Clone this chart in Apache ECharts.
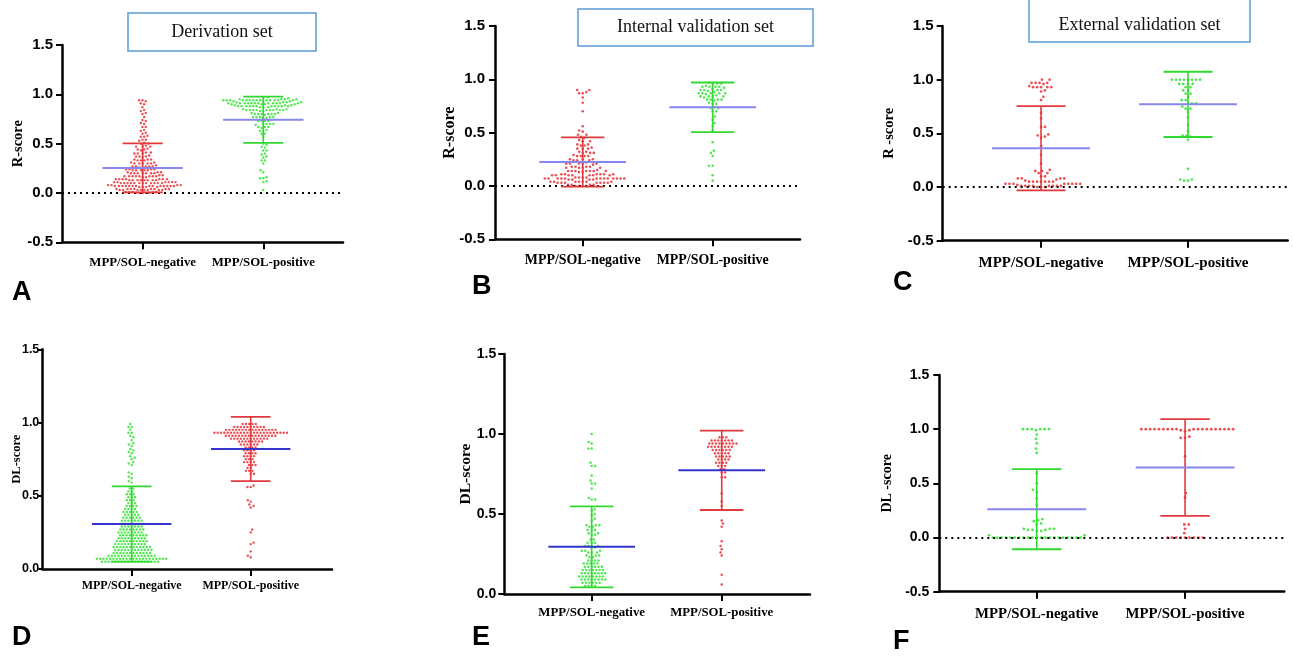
<!DOCTYPE html>
<html>
<head>
<meta charset="utf-8">
<script src="https://cdn.jsdelivr.net/npm/echarts@6/dist/echarts.min.js"></script>
<style>
  html, body { margin: 0; padding: 0; background: #ffffff; }
  #chart { width: 1293px; height: 656px; }
</style>
</head>
<body>
<div id="chart"></div>
<script>
// ---- Data ---------------------------------------------------------------
const categories = ['MPP/SOL-negative', 'MPP/SOL-positive'];
const panelLetters = ['A', 'B', 'C', 'D', 'E', 'F'];
const setTitles = ['Derivation set', 'Internal validation set', 'External validation set'];

// R-score, derivation set
const rNegDerivation = [
  0.00,0.01,0.00,0.01,0.00,0.01,0.01,0.00,0.01,0.00,
  0.03,0.04,0.03,0.04,0.03,0.04,0.04,0.03,0.04,0.03,0.04,0.03,0.04,0.03,0.04,0.03,
  0.07,0.07,0.06,0.07,0.08,0.07,0.07,0.06,0.07,0.08,0.07,0.07,0.06,0.07,0.08,0.07,0.07,0.06,0.07,0.08,0.07,0.07,
  0.10,0.10,0.11,0.10,0.10,0.11,0.10,0.10,0.11,0.10,0.10,0.11,0.10,0.10,0.11,0.10,0.10,0.11,
  0.13,0.14,0.13,0.14,0.13,0.14,0.13,0.14,0.13,0.14,0.13,0.14,0.13,0.14,0.13,
  0.17,0.17,0.16,0.17,0.18,0.17,0.17,0.16,0.17,0.18,0.17,0.17,
  0.20,0.20,0.21,0.20,0.20,0.21,0.20,0.20,0.21,0.20,
  0.23,0.24,0.23,0.24,0.23,0.24,0.23,0.24,0.23,
  0.27,0.27,0.26,0.27,0.28,0.27,0.27,0.26,
  0.30,0.30,0.31,0.30,0.30,0.31,0.30,
  0.33,0.34,0.33,0.34,0.33,0.34,
  0.37,0.37,0.36,0.37,0.38,
  0.40,0.40,0.41,0.40,0.41,
  0.44,0.43,0.44,0.45,
  0.47,0.47,0.48,0.47,
  0.50,0.51,0.50,
  0.54,0.53,0.54,
  0.57,0.57,0.58,
  0.60,0.61,0.64,0.63,0.67,0.67,0.70,0.71,0.74,0.73,0.77,0.80,0.81,0.84,0.83,0.87,0.90,0.91,0.94,0.94,0.93
];
const rPosDerivation = [
  0.97,0.97,0.96,
  0.94,0.94,0.95,0.94,0.94,0.93,0.94,0.94,0.95,0.94,0.94,0.93,0.94,0.94,0.95,0.94,0.94,0.93,0.94,0.94,0.95,
  0.91,0.91,0.90,0.91,0.92,0.91,0.91,0.90,0.91,0.92,0.91,0.91,0.90,0.91,0.92,0.91,0.91,0.90,0.91,0.92,
  0.88,0.88,0.87,0.88,0.89,0.88,0.88,0.87,0.88,0.89,0.88,0.88,0.87,0.88,0.89,0.88,0.88,
  0.84,0.84,0.85,0.84,0.83,0.84,0.84,0.85,0.84,0.83,0.84,0.84,0.85,0.84,
  0.80,0.80,0.81,0.80,0.79,0.80,0.80,0.81,0.80,
  0.77,0.76,0.77,0.77,0.76,0.77,0.77,
  0.73,0.73,0.74,0.73,0.73,
  0.70,0.70,0.69,0.70,0.70,
  0.67,0.66,0.67,0.67,
  0.63,0.63,0.64,
  0.60,0.60,0.57,
  0.50,0.49,0.47,0.46,0.43,0.43,0.40,0.39,0.37,0.36,0.33,0.33,0.30,
  0.23,0.21,0.16,0.15,0.15,0.12,0.11,0.03
];
const derivationRMean = [0.254, 0.742];
const derivationRSd = [0.248, 0.234];

// R-score, internal validation set
const rNegInternal = [
  0.90,0.90,0.88,0.87,0.87,0.83,0.78,0.70,
  0.56,0.52,0.51,0.48,0.48,0.45,0.46,
  0.42,0.42,0.43,0.38,0.39,0.38,0.39,0.35,0.35,0.36,0.35,
  0.31,0.32,0.31,0.32,0.31,0.28,0.28,0.29,0.28,0.28,
  0.24,0.25,0.24,0.25,0.24,0.25,
  0.21,0.21,0.22,0.21,0.21,0.20,0.21,
  0.17,0.18,0.17,0.18,0.17,0.18,0.17,0.18,
  0.14,0.14,0.13,0.14,0.14,0.15,0.14,0.14,0.13,0.14,
  0.10,0.11,0.10,0.11,0.10,0.11,0.10,0.11,0.10,0.11,0.10,0.11,0.10,
  0.07,0.07,0.06,0.07,0.08,0.07,0.07,0.06,0.07,0.08,0.07,0.07,0.06,0.07,0.08,0.07,0.07,0.07,0.06,0.07,0.08,
  0.03,0.04,0.03,0.04,0.03,0.04,0.03,0.04,0.03,0.04,0.03,0.04,0.03,0.04,
  0.00,0.01,0.00,0.01,0.00,0.01,0.00,0.01
];
const rPosInternal = [
  0.96,0.96,0.97,0.96,
  0.93,0.93,0.94,0.93,0.93,0.92,
  0.90,0.90,0.89,0.90,0.90,0.91,
  0.87,0.87,0.86,0.87,0.88,0.87,0.87,
  0.84,0.84,0.83,0.84,0.84,0.85,
  0.81,0.81,0.80,0.81,0.81,
  0.77,0.77,0.78,
  0.73,0.73,0.74,
  0.70,0.70,
  0.65,0.62,0.59,0.56,0.52,
  0.41,0.33,0.31,0.28,0.19,0.19,0.10,0.05
];
const internalRMean = [0.225, 0.737];
const internalRSd = [0.231, 0.233];

// R-score, external validation set
const rNegExternal = [
  1.00,1.00,0.97,0.97,0.96,0.97,0.97,0.93,0.93,0.94,0.93,0.93,0.93,0.90,0.89,0.84,0.81,
  0.69,0.64,0.56,0.56,0.49,0.48,0.47,0.46,0.38,0.30,0.22,
  0.16,0.15,0.15,0.13,0.13,0.10,0.10,
  0.08,0.08,0.08,0.07,0.08,
  0.05,0.05,0.05,0.06,0.05,0.05,0.05,0.05,
  0.03,0.03,0.03,0.02,0.03,0.03,0.03,0.03,0.03,
  0.01,0.01,0.00,0.01,0.01,0.00,0.01,0.01,0.00,0.01,0.01
];
const rPosExternal = [
  1.00,1.00,1.00,1.00,1.00,1.00,1.00,1.00,
  0.96,0.96,0.96,0.96,
  0.93,0.93,0.90,0.90,0.87,0.87,0.84,0.81,0.81,
  0.78,0.78,0.78,0.75,0.73,0.73,0.70,0.65,0.58,0.52,
  0.48,0.48,0.47,0.44,0.17,0.07,0.07,0.06,0.06
];
const externalRMean = [0.361, 0.770];
const externalRSd = [0.392, 0.304];

// DL-score, derivation set
const dlNegDerivation = [
  0.99,0.97,0.97,0.95,0.93,0.93,0.91,0.90,
  0.88,0.86,0.85,0.84,0.82,0.81,0.80,0.79,
  0.77,0.76,0.75,0.73,0.72,0.71,
  0.66,0.65,0.63,0.62,0.60,0.59,
  0.55,0.55,0.53,0.53,0.51,0.51,0.51,0.49,0.49,0.49,0.47,0.47,0.47,
  0.45,0.45,0.45,0.43,0.43,0.43,0.43,0.41,0.41,0.41,0.41,
  0.39,0.39,0.39,0.39,0.39,0.37,0.37,0.37,0.37,0.37,
  0.35,0.35,0.35,0.35,0.35,0.35,0.33,0.33,0.33,0.33,0.33,0.33,0.33,
  0.31,0.31,0.31,0.31,0.31,0.31,0.31,
  0.29,0.29,0.29,0.29,0.29,0.29,0.29,
  0.27,0.27,0.27,0.27,0.27,0.27,0.27,0.27,
  0.25,0.25,0.25,0.25,0.25,0.25,0.25,0.25,
  0.23,0.23,0.23,0.23,0.23,0.23,0.23,0.23,0.23,
  0.21,0.21,0.21,0.21,0.21,0.21,0.21,0.21,0.21,
  0.19,0.19,0.19,0.19,0.19,0.19,0.19,0.19,0.19,0.19,
  0.17,0.17,0.17,0.17,0.17,0.17,0.17,0.17,0.17,0.17,
  0.15,0.15,0.15,0.15,0.15,0.15,0.15,0.15,0.15,0.15,0.15,0.15,
  0.13,0.13,0.13,0.13,0.13,0.13,0.13,0.13,0.13,0.13,0.13,0.13,
  0.11,0.11,0.11,0.11,0.11,0.11,0.11,0.11,0.11,0.11,0.11,0.11,
  0.09,0.09,0.09,0.09,0.09,0.09,0.09,0.09,0.09,0.09,0.09,0.09,0.09,0.09,0.09,
  0.07,0.07,0.07,0.07,0.07,0.07,0.07,0.07,0.07,0.07,0.07,0.07,0.07,0.07,0.07,0.07,0.07,0.07,0.07,0.07,0.07,0.07,
  0.05,0.05,0.05,0.05,0.05,0.05,0.05,0.05,0.05,0.05,0.05,0.05,0.05,0.05,0.05,0.05,0.05,0.05
];
const dlPosDerivation = [
  0.99,0.99,0.99,0.99,0.99,
  0.97,0.97,0.97,0.97,0.97,0.97,0.97,0.97,0.97,0.97,
  0.95,0.95,0.95,0.95,0.95,0.95,0.95,0.95,0.95,0.95,0.95,0.95,0.95,0.95,0.95,0.95,
  0.93,0.93,0.93,0.93,0.93,0.93,0.93,0.93,0.93,0.93,0.93,0.93,0.93,0.93,0.93,0.93,0.93,0.93,0.93,0.93,0.93,0.93,0.93,
  0.91,0.91,0.91,0.91,0.91,0.91,0.91,0.91,0.91,0.91,0.91,0.91,0.91,0.91,0.91,0.91,
  0.89,0.89,0.89,0.89,0.89,0.89,0.89,0.89,0.89,0.89,0.89,0.89,
  0.87,0.87,0.87,0.87,0.87,0.87,0.87,0.87,
  0.85,0.85,0.85,0.85,0.85,0.85,
  0.83,0.83,0.83,0.83,0.81,0.81,0.81,0.81,0.79,0.79,0.79,0.79,0.77,0.77,0.77,0.77,
  0.75,0.75,0.75,0.73,0.73,0.73,0.73,0.71,0.71,0.71,0.69,0.69,0.67,0.67,0.67,0.65,0.65,
  0.57,0.56,0.56,0.47,0.46,0.44,0.43,0.42,
  0.27,0.25,0.18,0.17,0.12,0.09,0.08
];
const derivationDLMean = [0.307, 0.819];
const derivationDLSd = [0.257, 0.219];

// DL-score, internal validation set
const dlNegInternal = [
  1.00,0.95,0.94,0.91,0.91,0.82,0.80,0.80,0.74,0.71,0.69,0.69,0.66,0.60,0.59,0.59,
  0.53,0.52,0.50,0.49,0.47,0.46,
  0.43,0.43,0.43,0.42,0.42,0.40,0.40,0.40,0.38,0.38,0.37,0.37,
  0.34,0.34,0.32,0.32,0.32,0.30,0.30,0.30,0.29,0.29,0.27,0.27,0.27,0.26,0.26,0.26,0.24,0.24,0.24,0.23,0.23,
  0.21,0.21,0.21,0.21,
  0.19,0.19,0.19,0.19,0.19,
  0.17,0.17,0.17,0.17,0.17,0.17,
  0.15,0.15,0.15,0.15,0.15,0.15,0.15,
  0.13,0.13,0.13,0.13,0.13,0.13,0.13,0.13,
  0.11,0.11,0.11,0.11,0.11,0.11,0.11,0.11,
  0.09,0.09,0.09,0.09,0.09,0.09,0.09,0.09,
  0.07,0.07,0.07,0.07,0.07,0.07,
  0.05,0.05,0.05,0.05
];
const dlPosInternal = [
  0.98,0.98,0.98,
  0.96,0.96,0.96,0.96,0.96,0.96,0.96,
  0.94,0.94,0.94,0.94,0.94,0.94,0.94,0.94,0.94,
  0.92,0.92,0.92,0.92,0.92,0.92,0.92,0.92,
  0.90,0.90,0.90,0.90,0.90,0.90,
  0.88,0.88,0.88,0.88,0.88,
  0.86,0.86,0.86,0.86,0.86,
  0.84,0.84,0.84,0.84,
  0.82,0.82,0.82,0.82,
  0.80,0.80,0.80,
  0.78,0.78,0.76,0.76,0.73,0.73,
  0.63,0.58,0.55,0.46,0.44,0.42,0.33,0.30,0.28,0.26,0.24,0.12,0.06
];
const internalDLMean = [0.295, 0.773];
const internalDLSd = [0.253, 0.248];

// DL-score, external validation set
const dlNegExternal = [
  1.00,1.00,1.00,1.00,1.00,1.00,0.99,
  0.95,0.91,0.87,0.82,0.78,
  0.59,0.50,0.44,0.42,0.36,0.30,
  0.17,0.16,0.15,0.13,0.12,
  0.08,0.08,0.08,0.07,0.07,0.07,0.06,0.06,
  0.02,0.02,
  0.00,0.00,0.00,0.00,0.00,0.00,0.00,0.00,0.00,0.00,0.00,0.00,0.00,0.00,0.00,0.00,0.00,0.00,0.00,0.00,0.00
];
const dlPosExternal = [
  1.00,1.00,1.00,1.00,1.00,1.00,1.00,1.00,1.00,1.00,1.00,1.00,1.00,1.00,1.00,1.00,1.00,1.00,1.00,
  0.99,0.99,0.98,
  0.92,0.92,0.93,
  0.75,0.41,0.37,
  0.12,0.12,0.08,0.04,
  0.00,0.00,0.00,0.00,0.00,0.00,0.00,0.00,0.00
];
const externalDLMean = [0.262, 0.646];
const externalDLSd = [0.370, 0.446];

// ---- Styling -----------------------------------------------------------
const RED = '#e5262c';
const GREEN = '#27e027';
const RED_BAR = '#e0393e';
const GREEN_BAR = '#30d830';
const LAVENDER = '#8787ef';
const BLUE = '#3434cc';
const SERIF = '"Liberation Serif", "Times New Roman", serif';
const SANS = '"Liberation Sans", Arial, sans-serif';

const panels = [
  { neg: rNegDerivation, pos: rPosDerivation, mean: derivationRMean, sd: derivationRSd,
    negColor: RED, posColor: GREEN, negBar: RED_BAR, posBar: GREEN_BAR, meanColor: LAVENDER,
    yName: 'R-score', grid: { left: 62, top: 45, width: 281, height: 197.3 }, xRange: [0.331, 2.661], yMin: -0.5,
    nameGap: 36, nameSize: 14.5, tickSize: 15, tickLen: 6, tickMargin: 9,
    catSize: 12.8, catMargin: 14, dot: 3.4, size: 2.4 },
  { neg: rNegInternal, pos: rPosInternal, mean: internalRMean, sd: internalRSd,
    negColor: RED, posColor: GREEN, negBar: RED_BAR, posBar: GREEN_BAR, meanColor: LAVENDER,
    yName: 'R-score', grid: { left: 495, top: 26, width: 305, height: 213.3 }, xRange: [0.325, 2.672], yMin: -0.5,
    nameGap: 37.5, nameSize: 16, tickSize: 15, tickLen: 6, tickMargin: 10,
    catSize: 13.9, catMargin: 13.7, dot: 3.7, size: 2.6 },
  { neg: rNegExternal, pos: rPosExternal, mean: externalRMean, sd: externalRSd,
    negColor: RED, posColor: GREEN, negBar: RED_BAR, posBar: GREEN_BAR, meanColor: LAVENDER,
    yName: 'R -score', grid: { left: 942.7, top: 26, width: 345, height: 214.7 }, xRange: [0.331, 2.678], yMin: -0.5,
    nameGap: 46, nameSize: 14.5, tickSize: 15, tickLen: 6, tickMargin: 9,
    catSize: 15, catMargin: 14.8, dot: 4, size: 2.7 },
  { neg: dlNegDerivation, pos: dlPosDerivation, mean: derivationDLMean, sd: derivationDLSd,
    negColor: GREEN, posColor: RED, negBar: GREEN_BAR, posBar: RED_BAR, meanColor: BLUE,
    yName: 'DL-score', grid: { left: 42.3, top: 349.3, width: 289.7, height: 219.7 }, xRange: [0.249, 2.683], yMin: 0,
    nameGap: 19, nameSize: 12.5, tickSize: 12.5, tickLen: 4, tickMargin: 3,
    catSize: 12, catMargin: 10.5, dot: 3.3, size: 2.4 },
  { neg: dlNegInternal, pos: dlPosInternal, mean: internalDLMean, sd: internalDLSd,
    negColor: GREEN, posColor: RED, negBar: GREEN_BAR, posBar: RED_BAR, meanColor: BLUE,
    yName: 'DL-score', grid: { left: 504.3, top: 354, width: 305.7, height: 240 }, xRange: [0.328, 2.679], yMin: 0,
    nameGap: 30.5, nameSize: 15.5, tickSize: 14, tickLen: 6, tickMargin: 8,
    catSize: 12.8, catMargin: 12.6, dot: 3.4, size: 2.5 },
  { neg: dlNegExternal, pos: dlPosExternal, mean: externalDLMean, sd: externalDLSd,
    negColor: GREEN, posColor: RED, negBar: GREEN_BAR, posBar: RED_BAR, meanColor: LAVENDER,
    yName: 'DL -score', grid: { left: 939.3, top: 375, width: 345, height: 216.7 }, xRange: [0.343, 2.669], yMin: -0.5,
    nameGap: 45, nameSize: 14, tickSize: 14, tickLen: 6, tickMargin: 10,
    catSize: 14.8, catMargin: 14.9, dot: 4.4, size: 2.8 }
];

const letterPos = [[12, 293], [472, 287], [893, 283], [12, 638], [472, 638], [893, 642]];
const titleBoxes = [
  { x: 128, y: 13, w: 188, h: 38 },
  { x: 578, y: 9, w: 235, h: 37 },
  { x: 1029, y: -6, w: 221, h: 48 }
];

// ---- Option ------------------------------------------------------------
const grids = [], xAxes = [], yAxes = [], series = [];

panels.forEach((p, i) => {
  grids.push(Object.assign({ containLabel: false }, p.grid));

  xAxes.push({
    gridIndex: i, type: 'value', min: p.xRange[0], max: p.xRange[1],
    axisLine: { onZero: false, lineStyle: { color: '#000', width: 2.5 } },
    axisTick: { customValues: [1, 2], length: 7, lineStyle: { color: '#000', width: 2 } },
    axisLabel: {
      customValues: [1, 2], formatter: v => categories[Math.round(v) - 1],
      fontFamily: SERIF, fontWeight: 'bold', fontSize: p.catSize, color: '#000', margin: p.catMargin
    },
    splitLine: { show: false }
  });

  yAxes.push({
    gridIndex: i, type: 'value', min: p.yMin, max: 1.5, interval: 0.5,
    axisLine: { show: true, lineStyle: { color: '#000', width: 2.5 } },
    axisTick: { show: true, length: p.tickLen, lineStyle: { color: '#000', width: 2 } },
    axisLabel: {
      formatter: v => v.toFixed(1), fontFamily: SANS, fontWeight: 'bold',
      fontSize: p.tickSize, color: '#000', margin: p.tickMargin
    },
    splitLine: { show: false },
    name: p.yName, nameLocation: 'middle', nameGap: p.nameGap, nameMoveOverlap: false,
    nameTextStyle: { fontFamily: SERIF, fontWeight: 'bold', fontSize: p.nameSize, color: '#000' }
  });

  [p.neg, p.pos].forEach((vals, k) => {
    const s = {
      id: 'dots-' + i + '-' + k, type: 'scatter', xAxisIndex: i, yAxisIndex: i,
      symbol: 'circle', symbolSize: p.size, silent: true, z: 3,
      itemStyle: { color: k === 0 ? p.negColor : p.posColor },
      data: vals.map(v => [k + 1, v])
    };
    if (k === 0 && p.yMin < 0) {
      s.markLine = {
        silent: true, symbol: ['none', 'none'], label: { show: false },
        lineStyle: { color: '#000', type: [2, 4], width: 2 },
        data: [{ yAxis: 0 }]
      };
    }
    series.push(s);
  });

  // mean line and ±SD bars for both groups
  series.push({
    type: 'custom', xAxisIndex: i, yAxisIndex: i, z: 5, silent: true,
    dimensions: ['group', 'mean', 'sd'], encode: { x: 0, y: 1 },
    data: [[1, p.mean[0], p.sd[0]], [2, p.mean[1], p.sd[1]]],
    renderItem(params, api) {
      const x = api.value(0), m = api.value(1), sd = api.value(2);
      const col = params.dataIndex === 0 ? p.negBar : p.posBar;
      const top = api.coord([x, m + sd]);
      const bot = api.coord([x, m - sd]);
      const capL = api.coord([x - 1 / 6, m])[0];
      const capR = api.coord([x + 1 / 6, m])[0];
      const mL = api.coord([x - 1 / 3, m]);
      const mR = api.coord([x + 1 / 3, m]);
      const seg = (x1, y1, x2, y2, stroke, w) =>
        ({ type: 'line', shape: { x1, y1, x2, y2 }, style: { stroke, lineWidth: w } });
      return {
        type: 'group', children: [
          seg(top[0], top[1], bot[0], bot[1], col, 1.6),
          seg(capL, top[1], capR, top[1], col, 1.8),
          seg(capL, bot[1], capR, bot[1], col, 1.8),
          seg(mL[0], mL[1], mR[0], mR[1], p.meanColor, 2)
        ]
      };
    }
  });
});

const graphics = [];
titleBoxes.forEach((b, i) => {
  graphics.push({
    type: 'rect', shape: { x: b.x, y: b.y, width: b.w, height: b.h },
    style: { fill: '#fff', stroke: '#5b9bd5', lineWidth: 1.5 }, z: 10
  });
  graphics.push({
    type: 'text', x: b.x + b.w / 2, y: i === 2 ? 25 : b.y + b.h / 2, z: 11,
    style: { text: setTitles[i], font: '18px ' + SERIF, fill: '#111', align: 'center', verticalAlign: 'middle' }
  });
});
panelLetters.forEach((t, i) => {
  graphics.push({
    type: 'text', x: letterPos[i][0], y: letterPos[i][1], z: 11,
    style: { text: t, font: 'bold 27px ' + SANS, fill: '#000', align: 'left', verticalAlign: 'middle' }
  });
});

const chart = echarts.init(document.getElementById('chart'), null, { renderer: 'canvas' });
chart.setOption({
  animation: false,
  backgroundColor: '#ffffff',
  grid: grids, xAxis: xAxes, yAxis: yAxes, series: series, graphic: graphics
});

// ---- Beeswarm placement -------------------------------------------------
// Each dot is pushed sideways (in pixels) to the nearest free spot so that
// no two dots of a group overlap; its height stays at its own value.
function swarmOffsets(ys, s) {
  const order = ys.map((y, i) => i).sort((a, b) => ys[b] - ys[a]);
  const placed = [];
  const out = new Array(ys.length).fill(0);
  order.forEach((i, n) => {
    const y = ys[i];
    const near = placed.filter(q => Math.abs(q.y - y) < s - 1e-6);
    const cands = [0];
    near.forEach(q => {
      const d = Math.sqrt(s * s - (q.y - y) * (q.y - y));
      cands.push(q.x + d, q.x - d);
    });
    const flip = n % 2 === 0 ? 1 : -1;
    cands.sort((a, b) => (Math.abs(a) - Math.abs(b)) || (flip * (b - a)));
    let x = 0;
    for (const c of cands) {
      if (near.every(q => (q.x - c) * (q.x - c) + (q.y - y) * (q.y - y) >= s * s - 1e-3)) { x = c; break; }
    }
    placed.push({ x, y });
    out[i] = x;
  });
  return out;
}

const updates = [];
panels.forEach((p, i) => {
  const c1 = chart.convertToPixel({ gridIndex: i }, [1, 0]);
  const c2 = chart.convertToPixel({ gridIndex: i }, [2, 0]);
  const pxPerUnit = c2[0] - c1[0];
  [p.neg, p.pos].forEach((vals, k) => {
    const ys = vals.map(v => chart.convertToPixel({ gridIndex: i }, [1, v])[1]);
    const dx = swarmOffsets(ys, p.dot);
    updates.push({ id: 'dots-' + i + '-' + k, data: vals.map((v, j) => [k + 1 + dx[j] / pxPerUnit, v]) });
  });
});
chart.setOption({ series: updates });
</script>
</body>
</html>
